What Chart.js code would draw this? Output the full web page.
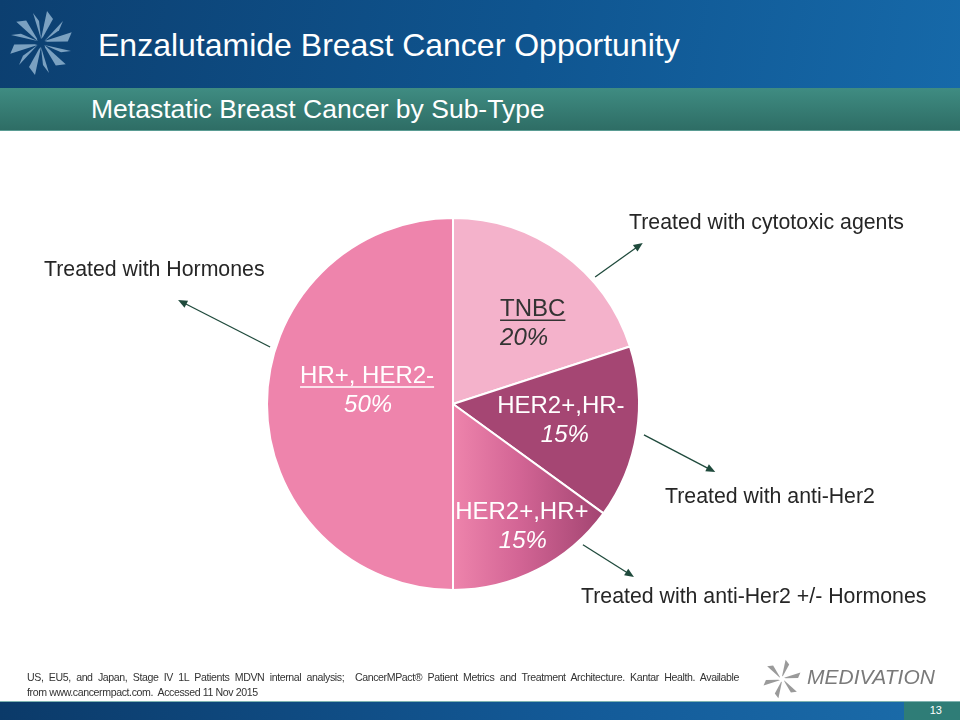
<!DOCTYPE html>
<html>
<head>
<meta charset="utf-8">
<script src="https://cdn.jsdelivr.net/npm/chart.js@4.4.1/dist/chart.umd.min.js"></script>
<style>
  html, body { margin: 0; padding: 0; }
  body { width: 960px; height: 720px; position: relative; overflow: hidden; background: #fff;
         font-family: "Liberation Sans", Arial, sans-serif; }
  #header { position: absolute; left: 0; top: 0; width: 960px; height: 88px;
            background: linear-gradient(100deg, #0c3f70 0%, #0f5590 55%, #1669a9 100%); }
  #title { position: absolute; left: 98px; top: 27px; color: #fff; font-size: 32px; white-space: nowrap; }
  #subbar { position: absolute; left: 0; top: 88px; width: 960px; height: 42px;
            background: linear-gradient(180deg, #3f8c82 0%, #2e6d65 100%);
            border-bottom: 1px solid #5a9c93; }
  #subtitle { position: absolute; left: 91px; top: 94px; color: #fff; font-size: 26.5px; white-space: nowrap; }
  #chartBox { position: absolute; left: 0; top: 0; width: 960px; height: 720px; }
  .note { position: absolute; color: #262626; font-size: 21.3px; white-space: nowrap; }
  .foot { position: absolute; left: 27px; width: 712px; font-size: 10.6px; line-height: 15px;
          letter-spacing: -0.4px; color: #333; white-space: nowrap; }
  #foot1 { top: 670px; text-align: justify; text-align-last: justify; white-space: normal; }
  #foot2 { top: 685px; }
  #bottombar { position: absolute; left: 0; top: 701px; width: 960px; height: 19px;
               background: linear-gradient(90deg, #0b3a69 0%, #135a98 60%, #1a6aa8 94.2%, #2f7d77 94.2%, #2f7d77 100%);
               border-top: 1px solid #7fb3b0; }
  #page { position: absolute; right: 18px; top: 704px; color: #fff; font-size: 11px; }
  #medi { position: absolute; left: 807px; top: 665px; color: #7a7a7a; font-size: 21px; font-style: italic;
          white-space: nowrap; }
</style>
</head>
<body>
<div id="header"></div>
<svg style="position:absolute;left:0;top:0" width="90" height="88" viewBox="0 0 90 88">
  <g transform="translate(41,43)" fill="#8fb3cf" fill-opacity="0.85">
    <polygon points="0,-4 6,-32 12,-24 2,-6"/>
    <polygon points="0,-4 -8,-30 -2,-22"/>
    <g transform="rotate(60)"><polygon points="0,-4 6,-32 12,-24 2,-6"/><polygon points="0,-4 -8,-30 -2,-22"/></g>
    <g transform="rotate(120)"><polygon points="0,-4 6,-32 12,-24 2,-6"/><polygon points="0,-4 -8,-30 -2,-22"/></g>
    <g transform="rotate(180)"><polygon points="0,-4 6,-32 12,-24 2,-6"/><polygon points="0,-4 -8,-30 -2,-22"/></g>
    <g transform="rotate(240)"><polygon points="0,-4 6,-32 12,-24 2,-6"/><polygon points="0,-4 -8,-30 -2,-22"/></g>
    <g transform="rotate(300)"><polygon points="0,-4 6,-32 12,-24 2,-6"/><polygon points="0,-4 -8,-30 -2,-22"/></g>
  </g>
</svg>
<div id="title">Enzalutamide Breast Cancer Opportunity</div>
<div id="subbar"></div>
<div id="subtitle">Metastatic Breast Cancer by Sub-Type</div>

<div id="chartBox"><canvas id="pie"></canvas></div>

<div class="note" style="left:44px;top:257px">Treated with Hormones</div>
<div class="note" style="left:629px;top:210px">Treated with cytotoxic agents</div>
<div class="note" style="left:665px;top:484px">Treated with anti-Her2</div>
<div class="note" style="left:581px;top:584px">Treated with anti-Her2 +/- Hormones</div>

<div class="foot" id="foot1">US, EU5, and Japan, Stage IV 1L Patients MDVN internal analysis;&nbsp; CancerMPact® Patient Metrics and Treatment Architecture. Kantar Health. Available</div>
<div class="foot" id="foot2">from www.cancermpact.com.&nbsp; Accessed 11 Nov 2015</div>

<svg style="position:absolute;left:760px;top:656px" width="46" height="46" viewBox="0 0 46 46">
  <g transform="translate(22,23) scale(0.6)" fill="#9a9a9a">
    <polygon points="0,-4 6,-32 12,-24 2,-6"/>
    <g transform="rotate(60)"><polygon points="0,-4 6,-32 12,-24 2,-6"/></g>
    <g transform="rotate(120)"><polygon points="0,-4 6,-32 12,-24 2,-6"/></g>
    <g transform="rotate(180)"><polygon points="0,-4 6,-32 12,-24 2,-6"/></g>
    <g transform="rotate(240)"><polygon points="0,-4 6,-32 12,-24 2,-6"/></g>
    <g transform="rotate(300)"><polygon points="0,-4 6,-32 12,-24 2,-6"/></g>
  </g>
</svg>
<div id="medi">MEDIVATION</div>

<div id="bottombar"></div>
<div id="page">13</div>

<script>
// slices, clockwise from 12 o'clock
const subtypes = ['TNBC', 'HER2+,HR-', 'HER2+,HR+', 'HR+, HER2-'];
const shares = [20, 15, 15, 50];
const sliceColors = ['#f4b2cb', '#a54673', 'gradient', '#ee84ac'];
const labelColors = ['#333333', '#ffffff', '#ffffff', '#ffffff'];
const underlined = [true, false, false, true];

// label placement relative to pie centre, in units of radius: [dx, dy, align]
const labelSpots = [
    [0.253, -0.51, 'left'],
    [0.58, 0.015, 'center'],
    [0.37, 0.585, 'center'],
    [-0.462, -0.15, 'center']
];

// arrows: [start angle deg, start radius factor, end dx, end dy] relative to centre (radius units)
const arrows = [
    [-41.8, 1.025, 1.02, -0.866],
    [9.2, 1.04, 1.41, 0.366],
    [47.3, 1.03, 0.973, 0.93],
    [197.3, 1.03, -1.478, -0.559]
];

function sliceFill(ctx) {
    const c = sliceColors[ctx.dataIndex];
    if (c !== 'gradient') return c;
    const area = ctx.chart.chartArea;
    if (!area) return '#d0608e';
    const cx = (area.left + area.right) / 2;
    const r = (area.right - area.left) / 2;
    const g = ctx.chart.ctx.createLinearGradient(cx, 0, cx + r * 0.78, 0);
    g.addColorStop(0, '#ee84ac');
    g.addColorStop(0.45, '#d36595');
    g.addColorStop(1, '#a54673');
    return g;
}

const decor = {
    id: 'decor',
    afterDatasetsDraw(chart) {
        const arc = chart.getDatasetMeta(0).data[0];
        const cx = arc.x, cy = arc.y, r = arc.outerRadius;
        const c = chart.ctx;
        c.save();
        // slice labels
        subtypes.forEach((name, i) => {
            const [dx, dy, align] = labelSpots[i];
            const x = cx + dx * r, y = cy + dy * r;
            c.fillStyle = labelColors[i];
            c.strokeStyle = labelColors[i];
            c.textAlign = align;
            c.textBaseline = 'middle';
            c.font = '24px "Liberation Sans", Arial, sans-serif';
            c.fillText(name, x, y);
            if (underlined[i]) {
                const w = c.measureText(name).width;
                const x0 = align === 'left' ? x : x - w / 2;
                c.lineWidth = 1.5;
                c.beginPath();
                c.moveTo(x0, y + 11);
                c.lineTo(x0 + w, y + 11);
                c.stroke();
            }
            c.font = 'italic 24px "Liberation Sans", Arial, sans-serif';
            const px = align === 'left' ? x : x + (i === 1 ? 4 : 1);
            c.fillText(shares[i] + '%', px, y + 29);
        });
        // arrows
        c.strokeStyle = '#1f4a3c';
        c.fillStyle = '#1f4a3c';
        c.lineWidth = 1.3;
        arrows.forEach(([deg, rs, ex, ey]) => {
            const a = deg * Math.PI / 180;
            const x1 = cx + Math.cos(a) * r * rs, y1 = cy + Math.sin(a) * r * rs;
            const x2 = cx + ex * r, y2 = cy + ey * r;
            const ang = Math.atan2(y2 - y1, x2 - x1);
            c.beginPath();
            c.moveTo(x1, y1);
            c.lineTo(x2 - Math.cos(ang) * 6, y2 - Math.sin(ang) * 6);
            c.stroke();
            c.beginPath();
            c.moveTo(x2, y2);
            c.lineTo(x2 - Math.cos(ang - 0.4) * 10, y2 - Math.sin(ang - 0.4) * 10);
            c.lineTo(x2 - Math.cos(ang + 0.4) * 10, y2 - Math.sin(ang + 0.4) * 10);
            c.closePath();
            c.fill();
        });
        c.restore();
    }
};

new Chart(document.getElementById('pie'), {
    type: 'pie',
    data: {
        labels: subtypes,
        datasets: [{
            data: shares,
            backgroundColor: sliceFill,
            borderColor: '#ffffff',
            borderWidth: 2
        }]
    },
    options: {
        responsive: true,
        maintainAspectRatio: false,
        animation: false,
        layout: { padding: { left: 266, right: 320, top: 216, bottom: 128 } },
        plugins: { legend: { display: false }, tooltip: { enabled: false } }
    },
    plugins: [decor]
});
</script>
</body>
</html>
